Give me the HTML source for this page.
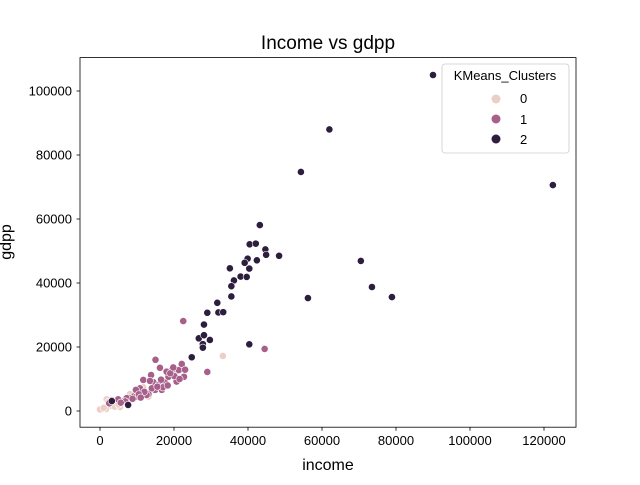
<!DOCTYPE html>
<html><head><meta charset="utf-8"><style>
body{margin:0;background:#fff}
svg{font-family:"Liberation Sans","DejaVu Sans",sans-serif}
</style></head><body>
<svg id="chart" width="640" height="480" viewBox="0 0 640 480" xmlns="http://www.w3.org/2000/svg">
<rect width="640" height="480" fill="#fff"/>
<text x="328" y="49" font-size="19" text-anchor="middle" fill="#000">Income vs gdpp</text>
<g id="marks"></g>
<rect x="80" y="57.6" width="496" height="369.6" fill="none" stroke="#000" stroke-width="0.8"/>
<g id="xticks"></g>
<g id="yticks"></g>
<text x="328" y="470" font-size="16" text-anchor="middle">income</text>
<text x="0" y="0" font-size="16" text-anchor="middle" transform="translate(11,242) rotate(-90)">gdpp</text>
<g>
<rect x="442" y="64" width="127" height="89" rx="3" fill="#fff" fill-opacity="0.8" stroke="#ccc" stroke-width="0.8"/>
<text x="505" y="80" font-size="13" text-anchor="middle">KMeans_Clusters</text>
<g><circle cx="496" cy="99" r="4.5" fill="#ebcfc6"/><text x="520" y="103" font-size="13">0</text></g>
<g><circle cx="496" cy="119" r="4.5" fill="#a7608a"/><text x="520" y="124" font-size="13">1</text></g>
<g><circle cx="496" cy="139" r="4.5" fill="#2d1e3e"/><text x="520" y="144" font-size="13">2</text></g>
</g>
</svg>
<script>
const xTicks=[0,20000,40000,60000,80000,100000,120000];
const yTicks=[0,20000,40000,60000,80000,100000];
const clusterColors=["#ebcfc6","#a7608a","#2d1e3e"];
const income0=[33200,11700,1800,3200,1600,700,8100,10400,13100,4000,5400,0,2200,5000,1000];
const gdpp0=[17200,7400,3650,1560,600,600,5300,7000,4500,1350,1250,500,2800,2000,1000];
const income1=[22500,44500,15000,29000,16200,13800,14400,17600,18500,20700,21300,22100,22700,20700,16700,15800,13100,10800,9700,9000,7900,6300,4900,3200,2500,9900,12600,19400,20100,11700,8100,14900,18000,7200,14000,19000,21500,17000,12000,10500,11000,15500,16500,13500,6800,5600,8800,19800,23000,18300];
const gdpp1=[28100,19400,16000,12200,13500,11250,9000,8850,10700,12500,12800,14700,10700,9200,6600,8100,5300,7100,6600,4500,3400,3100,3650,3400,2400,4500,5000,12800,10900,9700,4050,6600,12300,4000,7100,11800,10000,7400,6000,5200,4200,7600,9800,9400,3000,2600,3800,13600,12900,8000];
const income2=[90000,62000,54300,122400,70500,73500,78900,56200,40350,43200,40450,42100,44700,44900,48400,42400,39900,39100,40350,35100,38000,39650,36200,35500,35500,31700,32000,33300,29000,28100,26700,28100,29700,27800,27800,24800,3200,7600];
const gdpp2=[105000,88000,74700,70600,46900,38750,35600,35300,20850,58100,52100,52300,50500,48800,48500,47100,47600,46300,44500,44600,42000,41900,40800,39000,35800,33800,30800,30900,30700,27000,22700,23700,22200,20900,19800,16800,3100,1900];
const NS="http://www.w3.org/2000/svg";
function xs(v){return 100+v*0.0037;}
function ys(v){return 411-v*0.0032;}
const marks=document.getElementById('marks');
[[income0,gdpp0],[income1,gdpp1],[income2,gdpp2]].forEach(function(s,k){
  s[0].forEach(function(v,i){
    const c=document.createElementNS(NS,'circle');
    c.setAttribute('cx',xs(v));c.setAttribute('cy',ys(s[1][i]));c.setAttribute('r',3.6);
    c.setAttribute('fill',clusterColors[k]);c.setAttribute('stroke','#fff');c.setAttribute('stroke-width',0.6);
    
    
    marks.appendChild(c);
  });
});
const xg=document.getElementById('xticks');
xTicks.forEach(function(t){
  const x=xs(t);
  const l=document.createElementNS(NS,'line');
  l.setAttribute('x1',x);l.setAttribute('x2',x);l.setAttribute('y1',427.2);l.setAttribute('y2',430.7);l.setAttribute('stroke','#000');l.setAttribute('stroke-width',0.8);
  
  
  xg.appendChild(l);
  const tx=document.createElementNS(NS,'text');
  tx.setAttribute('x',x);tx.setAttribute('y',445);tx.setAttribute('font-size',13);tx.setAttribute('text-anchor','middle');
  tx.textContent=t;
  
  
  xg.appendChild(tx);
});
const yg=document.getElementById('yticks');
yTicks.forEach(function(t){
  const y=ys(t);
  const l=document.createElementNS(NS,'line');
  l.setAttribute('x1',76.5);l.setAttribute('x2',80);l.setAttribute('y1',y);l.setAttribute('y2',y);l.setAttribute('stroke','#000');l.setAttribute('stroke-width',0.8);
  
  
  yg.appendChild(l);
  const tx=document.createElementNS(NS,'text');
  tx.setAttribute('x',72);tx.setAttribute('y',y+4.5);tx.setAttribute('font-size',13);tx.setAttribute('text-anchor','end');
  tx.textContent=t;
  
  
  yg.appendChild(tx);
});
</script>
</body></html>
